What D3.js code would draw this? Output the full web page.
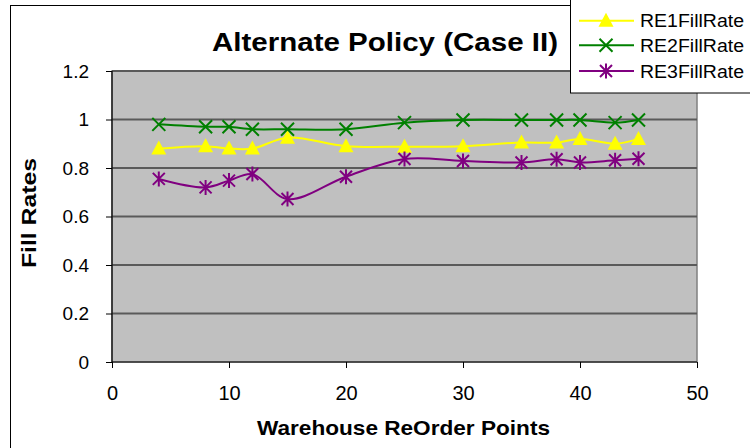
<!DOCTYPE html>
<html><head><meta charset="utf-8">
<script src="https://cdn.jsdelivr.net/npm/d3@7"></script>
<style>body{margin:0;background:#fff}svg{display:block;font-family:Arial,"Liberation Sans",sans-serif}</style>
</head><body>
<svg id="c" width="750" height="448"></svg>
<script>
const reorderPoints = [4, 8, 10, 12, 15, 20, 25, 30, 35, 38, 40, 43, 45];
const re1 = [0.88, 0.89, 0.88, 0.88, 0.925, 0.89, 0.888, 0.89, 0.905, 0.905, 0.92, 0.90, 0.92];
const re2 = [0.98, 0.97, 0.97, 0.96, 0.96, 0.96, 0.987, 0.998, 0.998, 0.998, 0.998, 0.987, 0.998];
const re3 = [0.755, 0.72, 0.748, 0.775, 0.672, 0.764, 0.837, 0.829, 0.823, 0.836, 0.823, 0.832, 0.838];
const seriesNames = ["RE1FillRate", "RE2FillRate", "RE3FillRate"];
const xTicks = [0, 10, 20, 30, 40, 50];
const yTicks = [0, 0.2, 0.4, 0.6, 0.8, 1, 1.2];

const colors = ["#ffff00", "#008000", "#800080"];
const markers = ["tri", "x", "star"];
const series = [re1, re2, re3].map((v, i) => ({name: seriesNames[i], color: colors[i], marker: markers[i],
  pts: reorderPoints.map((x, j) => [x, v[j]])}));

const FONT = "Arial, Liberation Sans, sans-serif";
const svg = d3.select("#c");
// outer chart border
svg.append("rect").attr("x", 10.5).attr("y", 5.5).attr("width", 760).attr("height", 460)
  .attr("fill", "#fff").attr("stroke", "#000").attr("stroke-width", 1);

const L = 112, R = 697, T = 71, B = 362;
const x = d3.scaleLinear().domain([0, 50]).range([L, R]);
const y = d3.scaleLinear().domain([0, 1.2]).range([B, T]);

svg.append("rect").attr("x", L).attr("y", T).attr("width", R - L).attr("height", B - T)
  .attr("fill", "#c0c0c0").attr("stroke", "#808080").attr("stroke-width", 1.5);

// gridlines
svg.append("g").selectAll("line").data(yTicks.filter(d => d > 0)).join("line")
  .attr("x1", L).attr("x2", R).attr("y1", d => y(d)).attr("y2", d => y(d))
  .attr("stroke", "#5a5a5a").attr("stroke-width", 2);

// axes
const xAxis = d3.axisBottom(x).tickValues(xTicks).tickSize(6).tickPadding(18).tickFormat(d3.format("d"));
const gx = svg.append("g").attr("transform", `translate(0,${B})`).call(xAxis);
gx.select(".domain").attr("stroke", "#000").attr("stroke-width", 1.2).attr("d", `M${L},0H${R}`);
gx.selectAll(".tick line").attr("stroke", "#000");
gx.selectAll("text").attr("font-size", 20).attr("fill", "#000").attr("font-family", FONT);

const yAxis = d3.axisLeft(y).tickValues(yTicks).tickSize(6).tickPadding(17).tickFormat(d => d3.format("")(d));
const gy = svg.append("g").attr("transform", `translate(${L},0)`).call(yAxis);
gy.select(".domain").attr("stroke", "#000").attr("stroke-width", 1.2).attr("d", `M0,${T}V${B}`);
gy.selectAll(".tick line").attr("stroke", "#000");
gy.selectAll("text").attr("font-size", 19).attr("fill", "#000").attr("font-family", FONT);

// lines
const line = d3.line().x(d => x(d[0])).y(d => y(d[1])).curve(d3.curveCatmullRom.alpha(0.5));
function drawMarker(g, type, color) {
  if (type === "tri") {
    g.append("path").attr("d", "M0,-8L7.5,6L-7.5,6Z").attr("fill", color);
  } else if (type === "x") {
    g.append("path").attr("d", "M-6.5,-6.5L6.5,6.5M-6.5,6.5L6.5,-6.5").attr("stroke", color).attr("stroke-width", 2).attr("fill", "none");
  } else {
    g.append("path").attr("d", "M-6,-6L6,6M-6,6L6,-6M0,-7.5V7.5").attr("stroke", color).attr("stroke-width", 2).attr("fill", "none");
  }
}
series.forEach(s => {
  svg.append("path").datum(s.pts).attr("d", line).attr("fill", "none").attr("stroke", s.color).attr("stroke-width", 2);
});
series.forEach(s => {
  s.pts.forEach(p => {
    const g = svg.append("g").attr("transform", `translate(${x(p[0])},${y(p[1])})`);
    drawMarker(g, s.marker, s.color);
  });
});

// title
svg.append("text").attr("x", 212).attr("y", 51)
  .attr("font-size", 26).attr("font-weight", "bold").attr("font-family", FONT)
  .attr("textLength", 346).attr("lengthAdjust", "spacingAndGlyphs").text("Alternate Policy (Case II)");
// axis titles
svg.append("text").attr("x", 257).attr("y", 435)
  .attr("font-size", 21).attr("font-weight", "bold").attr("font-family", FONT)
  .attr("textLength", 293).attr("lengthAdjust", "spacingAndGlyphs").text("Warehouse ReOrder Points");
svg.append("text").attr("transform", "translate(36,268) rotate(-90)")
  .attr("font-size", 19.5).attr("font-weight", "bold").attr("font-family", FONT)
  .attr("textLength", 110).attr("lengthAdjust", "spacingAndGlyphs").text("Fill Rates");

// legend
const lg = svg.append("g");
lg.append("rect").attr("x", 570.5).attr("y", -5).attr("width", 200).attr("height", 98)
  .attr("fill", "#fff").attr("stroke", "#000").attr("stroke-width", 1);
const rowY = [20.7, 45.3, 71];
series.forEach((s, i) => {
  const cy = rowY[i];
  lg.append("line").attr("x1", 579).attr("x2", 634).attr("y1", cy).attr("y2", cy).attr("stroke", s.color).attr("stroke-width", 2);
  const g = lg.append("g").attr("transform", `translate(606,${cy})`);
  drawMarker(g, s.marker, s.color);
  lg.append("text").attr("x", 640).attr("y", cy + 6.6).attr("font-size", 17.5).attr("font-family", FONT)
    .attr("textLength", 104).attr("lengthAdjust", "spacingAndGlyphs").text(s.name);
});
</script>
</body></html>
